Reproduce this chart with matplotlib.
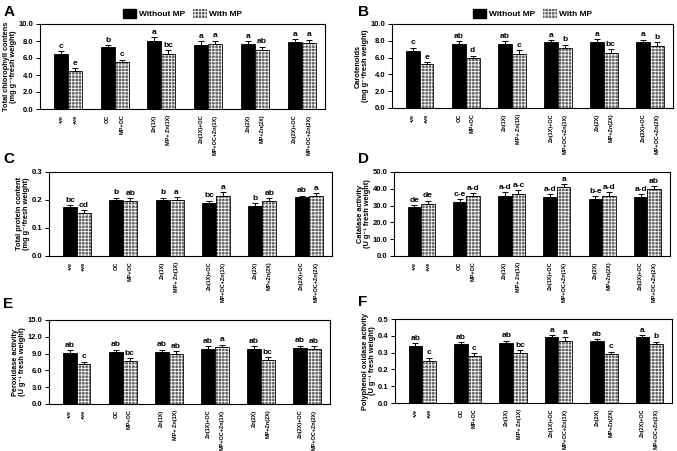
import matplotlib
matplotlib.use("Agg")
import matplotlib.pyplot as plt
import numpy as np
from matplotlib.patches import Patch

plt.rcParams['font.family'] = ['Liberation Sans', 'DejaVu Sans']
plt.rcParams['font.weight'] = 'bold'
plt.rcParams['hatch.linewidth'] = 0.6

tick_labels = ["-ve", "+ve", "OC", "MP+OC", "Zn(1X)", "MP+ Zn(1X)",
               "Zn(1X)+OC", "MP+OC+Zn(1X)", "Zn(2X)", "MP+Zn(2X)",
               "Zn(2X)+OC", "MP+OC+Zn(2X)"]
series_names = ["Without MP", "With MP"]

A_without = [6.5, 7.3, 8.0, 7.5, 7.6, 7.9]
A_with = [4.5, 5.5, 6.5, 7.7, 6.9, 7.8]
A_err_without = [0.35, 0.25, 0.45, 0.45, 0.35, 0.3]
A_err_with = [0.3, 0.3, 0.45, 0.35, 0.45, 0.35]
A_let_without = ["c", "b", "a", "a", "a", "a"]
A_let_with = ["e", "c", "bc", "a", "ab", "a"]

B_without = [6.8, 7.6, 7.6, 7.8, 7.9, 7.9]
B_with = [5.2, 6.0, 6.4, 7.1, 6.6, 7.4]
B_err_without = [0.4, 0.35, 0.35, 0.3, 0.3, 0.25]
B_err_with = [0.25, 0.25, 0.45, 0.45, 0.4, 0.45]
B_let_without = ["c", "ab", "ab", "a", "a", "a"]
B_let_with = ["e", "d", "c", "b", "bc", "b"]

C_without = [0.175, 0.200, 0.200, 0.190, 0.180, 0.210]
C_with = [0.155, 0.197, 0.200, 0.215, 0.197, 0.215]
C_err_without = [0.008, 0.008, 0.008, 0.008, 0.008, 0.006]
C_err_with = [0.008, 0.009, 0.009, 0.012, 0.009, 0.009]
C_let_without = ["bc", "b", "b", "bc", "b", "ab"]
C_let_with = ["cd", "ab", "a", "a", "ab", "a"]

D_without = [29.0, 32.0, 36.0, 35.0, 34.0, 35.0]
D_with = [31.0, 36.0, 37.0, 41.0, 36.0, 40.0]
D_err_without = [1.5, 2.0, 1.8, 2.0, 1.8, 2.0]
D_err_with = [2.0, 1.5, 2.0, 1.8, 1.8, 1.5]
D_let_without = ["de", "c-e", "a-d", "a-d", "b-e", "a-d"]
D_let_with = ["de", "a-d", "a-c", "a", "a-d", "ab"]

E_without = [9.1, 9.3, 9.3, 9.9, 9.9, 10.0]
E_with = [7.1, 7.7, 8.9, 10.1, 7.9, 9.9]
E_err_without = [0.5, 0.4, 0.4, 0.4, 0.4, 0.4]
E_err_with = [0.45, 0.45, 0.55, 0.5, 0.5, 0.4]
E_let_without = ["ab", "ab", "ab", "ab", "ab", "ab"]
E_let_with = ["c", "bc", "ab", "a", "bc", "ab"]

F_without = [0.34, 0.35, 0.36, 0.39, 0.37, 0.39]
F_with = [0.25, 0.28, 0.30, 0.37, 0.29, 0.35]
F_err_without = [0.015, 0.012, 0.012, 0.015, 0.01, 0.015]
F_err_with = [0.02, 0.018, 0.015, 0.02, 0.015, 0.015]
F_let_without = ["ab", "ab", "ab", "a", "ab", "a"]
F_let_with = ["c", "c", "bc", "a", "c", "b"]

SUP = "\u207b\u00b9"
ylabels = {
    "A": "Total chlorophyll contens\n(mg g" + SUP + "fresh weight)",
    "B": "Carotenoids\n(mg g" + SUP + "fresh weight)",
    "C": "Total protein content\n(mg g" + SUP + "fresh weight)",
    "D": "Catalase activity\n(U g" + SUP + " fresh weight)",
    "E": "Peroxidase activity\n(U g" + SUP + " fresh weight)",
    "F": "Polyphenol oxidase activity\n(U g" + SUP + " fresh weight)",
}
yticks = {
    "A": (np.arange(0, 10.01, 2.0), "%.1f"),
    "B": (np.arange(0, 10.01, 2.0), "%.1f"),
    "C": (np.arange(0, 0.301, 0.1), "%.1f"),
    "D": (np.arange(0, 50.01, 10.0), "%.1f"),
    "E": (np.arange(0, 15.01, 3.0), "%.1f"),
    "F": (np.arange(0, 0.501, 0.1), "%.1f"),
}
panels = {
    "A": (A_without, A_with, A_err_without, A_err_with, A_let_without, A_let_with),
    "B": (B_without, B_with, B_err_without, B_err_with, B_let_without, B_let_with),
    "C": (C_without, C_with, C_err_without, C_err_with, C_let_without, C_let_with),
    "D": (D_without, D_with, D_err_without, D_err_with, D_let_without, D_let_with),
    "E": (E_without, E_with, E_err_without, E_err_with, E_let_without, E_let_with),
    "F": (F_without, F_with, F_err_without, F_err_with, F_let_without, F_let_with),
}
# pixel boxes: left, right, top, bottom
boxes = {
    "A": (40, 325, 24, 109),
    "B": (392, 673, 24, 108),
    "C": (49, 332, 172, 256),
    "D": (394, 670, 172, 256),
    "E": (49, 330, 320, 404),
    "F": (395, 672, 319, 403),
}
letter_pos = {"A": (4, 12), "B": (358, 12), "C": (3, 159), "D": (358, 159),
              "E": (3, 304), "F": (358, 302)}

W, H = 677, 451
fig = plt.figure(figsize=(W / 100, H / 100), dpi=100)

HATCH_FACE = "#5e5e5e"
x = np.arange(6)
bw = 0.3

for key in ["A", "B", "C", "D", "E", "F"]:
    l, r, t, b = boxes[key]
    ax = fig.add_axes([l / W, 1 - b / H, (r - l) / W, (b - t) / H])
    wo, wi, ewo, ewi, lwo, lwi = panels[key]
    xs1 = x - bw / 2
    xs2 = x + bw / 2
    ax.bar(xs1, wo, width=bw, color="black", edgecolor="black", linewidth=0.6, zorder=2)
    ax.bar(xs2, wi, width=bw, color=HATCH_FACE, edgecolor="white", hatch="+++++",
           linewidth=0, zorder=2)
    ax.bar(xs2, wi, width=bw, fill=False, edgecolor="black", linewidth=0.6, zorder=3)
    ax.errorbar(xs1, wo, yerr=[np.zeros(6), ewo], fmt="none", ecolor="black",
                elinewidth=0.7, capsize=2, capthick=0.7, zorder=4)
    ax.errorbar(xs2, wi, yerr=[np.zeros(6), ewi], fmt="none", ecolor="black",
                elinewidth=0.7, capsize=2, capthick=0.7, zorder=4)
    ticks, fmt = yticks[key]
    ymax = ticks[-1]
    off = ymax * 0.015
    for xi, v, e, s in zip(xs1, wo, ewo, lwo):
        ax.text(xi, v + e + off, s, ha="center", va="bottom", fontsize=6,
                fontweight="bold")
    for xi, v, e, s in zip(xs2, wi, ewi, lwi):
        ax.text(xi, v + e + off, s, ha="center", va="bottom", fontsize=6,
                fontweight="bold")
    ax.set_xlim(-0.6, 5.5)
    ax.set_ylim(0, ymax)
    ax.set_yticks(ticks)
    ax.set_yticklabels([fmt % tv for tv in ticks], fontsize=5.5, fontweight="bold")
    ax.set_xticks(np.concatenate([xs1, xs2]))
    ax.set_xticklabels(tick_labels[0::2] + tick_labels[1::2], rotation=90,
                       fontsize=4.0, fontweight="bold")
    ax.tick_params(axis="x", length=0, pad=4)
    ax.tick_params(axis="y", length=3, width=0.7, pad=1.5)
    for sp in ax.spines.values():
        sp.set_linewidth(0.8)
    ax.set_ylabel(ylabels[key], fontsize=5.3, fontweight="bold", labelpad=1.5,
                  linespacing=1.0)
    fig.text(letter_pos[key][0] / W, 1 - letter_pos[key][1] / H, key,
             fontsize=11, fontweight="bold", va="center", ha="left")
    if key in ("A", "B"):
        handles = [Patch(facecolor="black", edgecolor="black"),
                   Patch(facecolor=HATCH_FACE, edgecolor="white", hatch="+++++",
                         linewidth=0)]
        ax.legend(handles, series_names, loc="lower center",
                  bbox_to_anchor=(0.5, 1.03), ncol=2, frameon=False,
                  fontsize=6, handlelength=1.6, handleheight=1.3,
                  columnspacing=1.0, handletextpad=0.3, borderaxespad=0)

fig.savefig("out.png", dpi=100)
